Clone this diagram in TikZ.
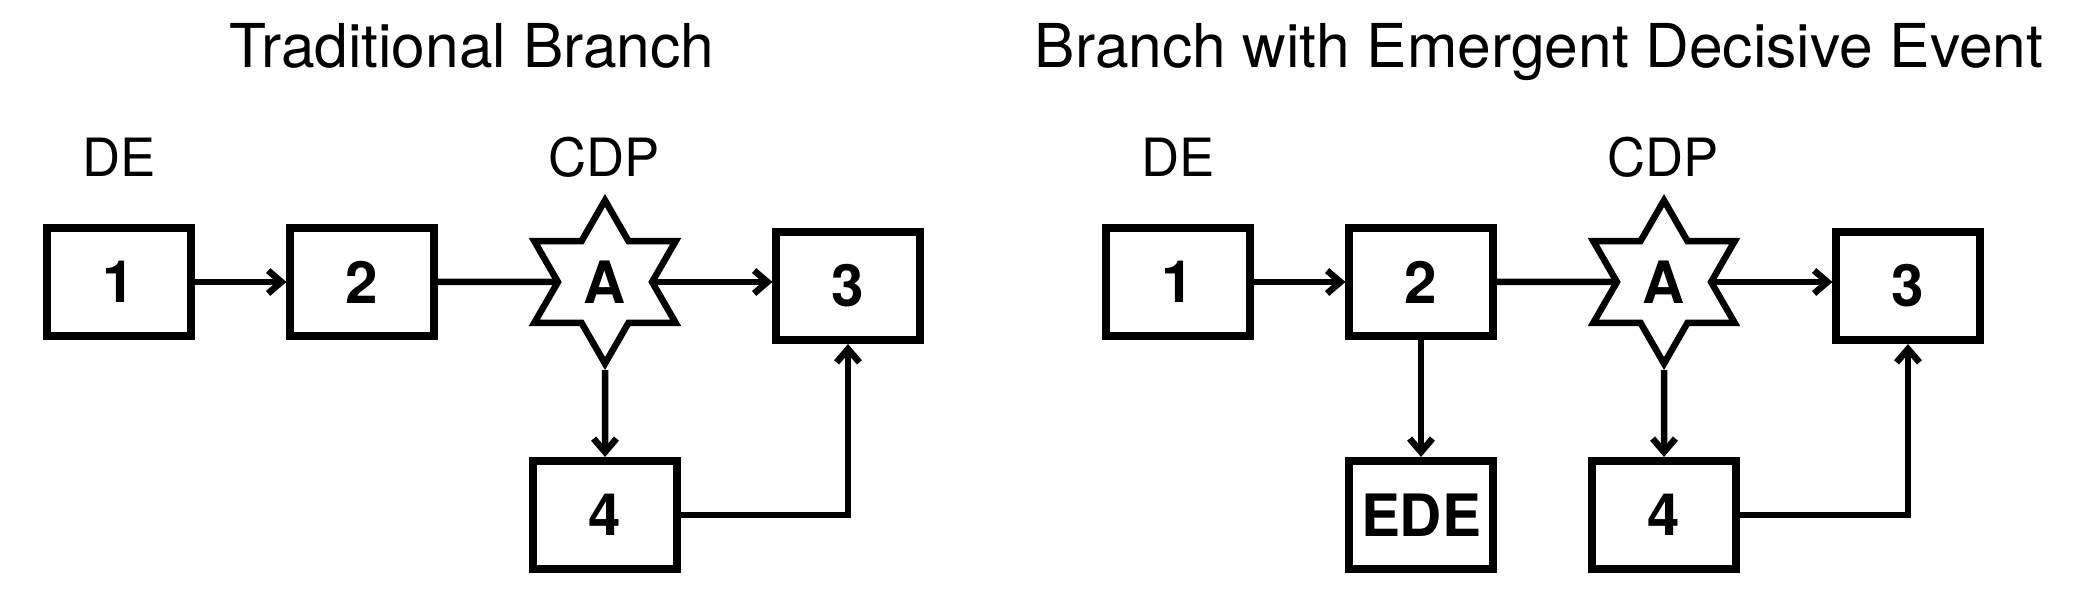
\documentclass[tikz,border=0pt]{standalone}
\usepackage{fontspec}
\setmainfont{TeX Gyre Heros}
\usetikzlibrary{arrows.meta,shapes.geometric}

\tikzset{
	box/.style={draw, line width=0.08cm, fill=white, minimum width=1.43cm, minimum height=1.08cm, inner sep=0pt, font=\fontsize{16.6}{19}\selectfont\bfseries},
	hexstar/.style={draw, line width=0.065cm, fill=white, star, star points=6, star point ratio=1.732, minimum size=1.63cm, inner sep=0pt, font=\fontsize{16.6}{19}\selectfont\bfseries},
	heading/.style={anchor=base, inner sep=0pt, font=\fontsize{17.2}{20}\selectfont},
	tagtext/.style={anchor=base, inner sep=0pt, font=\fontsize{15}{18}\selectfont},
	plain/.style={line width=0.065cm},
	flow/.style={plain, -{Straight Barb[length=3.8pt,width=6.5pt]}}
}

\begin{document}
\begin{tikzpicture}[x=0.01cm, y=-0.01cm]
		%%%%% START %%%%%
		\useasboundingbox (0,0) rectangle (2090,610);
		
		% traditional branch
		\node[heading] (t1) at (472,68) {Traditional Branch};
		\node[tagtext] (de1) at (119,177) {DE};
		\node[tagtext] (cdp1) at (604,177) {CDP};
		
		\node[box] (a1) at (119,282) {1};
		\node[box] (a2) at (362,282) {2};
		\node[hexstar] (aA) at (605,282) {A};
		\node[box] (a3) at (848,286) {3};
		\node[box] (a4) at (605,515) {4};
		
		\draw[flow] (a1) -- (a2);
		\draw[plain] (a2) -- (aA);
		\draw[flow] (aA.east) -- (aA.east -| a3.west);
		\draw[flow] (aA.south) -- (a4.north);
		\draw[flow] (a4.east) -| (a3.south);
		
		% branch with emergent decisive event
		\node[heading] (t2) at (1539,68) {Branch with Emergent Decisive Event};
		\node[tagtext] (de2) at (1178,177) {DE};
		\node[tagtext] (cdp2) at (1663,177) {CDP};
		
		\node[box] (b1) at (1178,282) {1};
		\node[box] (b2) at (1421,282) {2};
		\node[hexstar] (bA) at (1664,282) {A};
		\node[box] (b3) at (1908,286) {3};
		\node[box] (bede) at (1421,515) {EDE};
		\node[box] (b4) at (1664,515) {4};
		
		\draw[flow] (b1) -- (b2);
		\draw[plain] (b2) -- (bA);
		\draw[flow] (bA.east) -- (bA.east -| b3.west);
		\draw[flow] (b2) -- (bede);
		\draw[flow] (bA.south) -- (b4.north);
		\draw[flow] (b4.east) -| (b3.south);
		
		%%%%% END %%%%%
\end{tikzpicture}
\end{document}
